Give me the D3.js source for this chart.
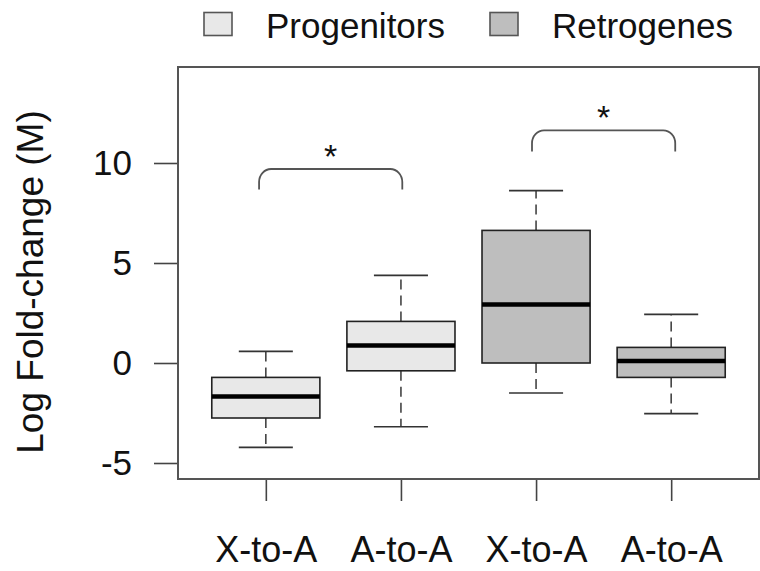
<!DOCTYPE html>
<html>
<head>
<meta charset="utf-8">
<script src="https://cdn.jsdelivr.net/npm/d3@7"></script>
<style>
  body { margin: 0; background: #fff; }
  text { font-family: "Liberation Sans", Arial, sans-serif; fill: #111; }
</style>
</head>
<body>
<div id="chart"></div>
<script>
// box statistics, one entry per box
const groups = ["X-to-A", "A-to-A", "X-to-A", "A-to-A"];
const series = ["Progenitors", "Progenitors", "Retrogenes", "Retrogenes"];
const lowWhisker = [-4.22, -3.19, -1.5, -2.53];
const q1 = [-2.75, -0.39, 0.0, -0.72];
const medians = [-1.67, 0.87, 2.92, 0.1];
const q3 = [-0.72, 2.08, 6.63, 0.78];
const highWhisker = [0.58, 4.38, 8.62, 2.43];

const legendNames = ["Progenitors", "Retrogenes"];
const yTicks = [-5, 0, 5, 10];

// significance brackets: x span in box positions, foot / top level, label
const bracketFrom = [0.95, 2.97];
const bracketTo = [2.01, 4.03];
const bracketFoot = [8.67, 10.58];
const bracketTop = [9.7, 11.63];
const bracketLabel = ["*", "*"];

const fills = {"Progenitors": "#e8e8e8", "Retrogenes": "#bebebe"};

const W = 760, H = 571;
const margin = {top: 67, right: 1, bottom: 92, left: 178};

const svg = d3.select("#chart").append("svg")
  .attr("width", W).attr("height", H);

const x = d3.scaleLinear()
  .domain([0.35, 4.65])
  .range([margin.left, W - margin.right]);
const y = d3.scaleLinear()
  .domain([-5.8, 14.8])
  .range([H - margin.bottom, margin.top]);

const data = groups.map((g, i) => ({
  pos: i + 1, group: g, series: series[i],
  lo: lowWhisker[i], q1: q1[i], med: medians[i], q3: q3[i], hi: highWhisker[i]
}));

const halfBox = 0.4, halfCap = 0.2;

// whiskers (dashed)
const whisk = svg.append("g")
  .attr("stroke", "#444").attr("stroke-width", 1.6)
  .attr("stroke-dasharray", "10,6");
whisk.selectAll(".wl").data(data).join("line")
  .attr("x1", d => x(d.pos)).attr("x2", d => x(d.pos))
  .attr("y1", d => y(d.q1)).attr("y2", d => y(d.lo));
whisk.selectAll(".wh").data(data).join("line")
  .attr("x1", d => x(d.pos)).attr("x2", d => x(d.pos))
  .attr("y1", d => y(d.q3)).attr("y2", d => y(d.hi));

// whisker caps
const caps = svg.append("g").attr("stroke", "#333").attr("stroke-width", 1.6);
["lo", "hi"].forEach(k => {
  caps.selectAll(".c" + k).data(data).join("line")
    .attr("x1", d => x(d.pos - halfCap)).attr("x2", d => x(d.pos + halfCap))
    .attr("y1", d => y(d[k])).attr("y2", d => y(d[k]));
});

// boxes
svg.append("g").selectAll("rect").data(data).join("rect")
  .attr("x", d => x(d.pos - halfBox))
  .attr("width", d => x(d.pos + halfBox) - x(d.pos - halfBox))
  .attr("y", d => y(d.q3))
  .attr("height", d => y(d.q1) - y(d.q3))
  .attr("fill", d => fills[d.series])
  .attr("stroke", "#222").attr("stroke-width", 1.6);

// medians
svg.append("g").selectAll("line").data(data).join("line")
  .attr("x1", d => x(d.pos - halfBox)).attr("x2", d => x(d.pos + halfBox))
  .attr("y1", d => y(d.med)).attr("y2", d => y(d.med))
  .attr("stroke", "#000").attr("stroke-width", 4.5);

// brackets with rounded corners
const rx = 12, ry = 13;
bracketFrom.forEach((f, i) => {
  const x0 = x(f), x1 = x(bracketTo[i]);
  const yb = y(bracketFoot[i]), yt = y(bracketTop[i]);
  const p = d3.path();
  p.moveTo(x0, yb);
  p.lineTo(x0, yt + ry);
  p.bezierCurveTo(x0, yt + ry * 0.45, x0 + rx * 0.45, yt, x0 + rx, yt);
  p.lineTo(x1 - rx, yt);
  p.bezierCurveTo(x1 - rx * 0.45, yt, x1, yt + ry * 0.45, x1, yt + ry);
  p.lineTo(x1, yb);
  svg.append("path").attr("d", p.toString())
    .attr("fill", "none").attr("stroke", "#555").attr("stroke-width", 1.8);
  svg.append("text")
    .attr("x", (x0 + x1) / 2)
    .attr("y", yt - 1)
    .attr("text-anchor", "middle")
    .style("font-size", "34px")
    .text(bracketLabel[i]);
});

// y axis
svg.append("g")
  .attr("transform", `translate(${margin.left},0)`)
  .call(d3.axisLeft(y).tickValues(yTicks).tickFormat(d => String(d))
    .tickSize(24).tickPadding(22))
  .call(g => g.select(".domain").remove())
  .call(g => g.selectAll(".tick line").attr("stroke", "#444").attr("stroke-width", 1.6))
  .call(g => g.selectAll(".tick text").attr("fill", "#111")
    .style("font-size", "35px").style("font-family", "Liberation Sans, Arial, sans-serif"));

// x axis
svg.append("g")
  .attr("transform", `translate(0,${H - margin.bottom})`)
  .call(d3.axisBottom(x).tickValues(data.map(d => d.pos))
    .tickFormat((d, i) => groups[i]).tickSize(22).tickPadding(35))
  .call(g => g.select(".domain").remove())
  .call(g => g.selectAll(".tick line").attr("stroke", "#444").attr("stroke-width", 1.6))
  .call(g => g.selectAll(".tick text").attr("fill", "#111")
    .style("font-size", "36px").style("font-family", "Liberation Sans, Arial, sans-serif"));

// plot frame
svg.append("rect")
  .attr("x", margin.left).attr("y", margin.top)
  .attr("width", W - margin.right - margin.left)
  .attr("height", H - margin.bottom - margin.top)
  .attr("fill", "none").attr("stroke", "#555").attr("stroke-width", 2);

// y title
svg.append("text")
  .attr("transform", `translate(43,${(margin.top + H - margin.bottom) / 2 + 9}) rotate(-90)`)
  .attr("text-anchor", "middle")
  .style("font-size", "37px")
  .text("Log Fold-change (M)");

// legend
const legX = [204, 490];
const leg = svg.append("g");
legendNames.forEach((n, i) => {
  leg.append("rect")
    .attr("x", legX[i]).attr("y", 12.5)
    .attr("width", 28).attr("height", 23)
    .attr("fill", fills[n]).attr("stroke", "#555").attr("stroke-width", 1.6);
  leg.append("text")
    .attr("x", legX[i] + 62).attr("y", 38)
    .style("font-size", "35px")
    .text(n);
});
</script>
</body>
</html>
